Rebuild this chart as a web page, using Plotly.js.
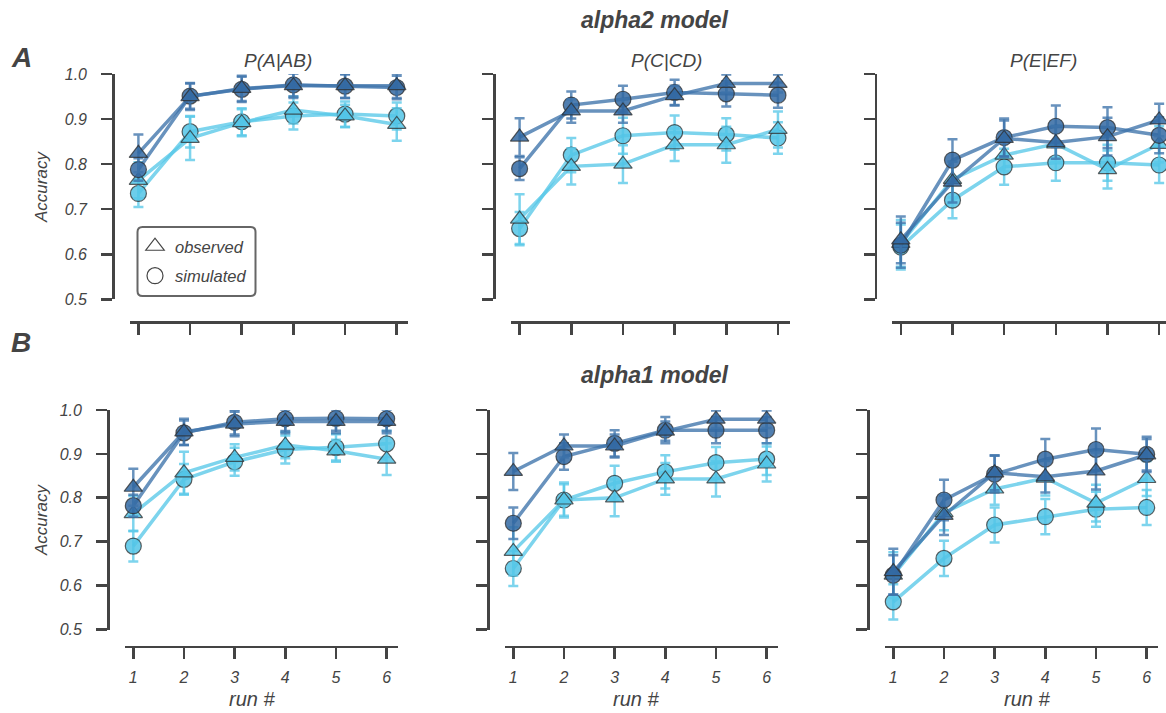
<!DOCTYPE html>
<html>
<head>
<meta charset="utf-8">
<script src="https://cdn.plot.ly/plotly-3.0.1.min.js"></script>
<style>html,body{margin:0;padding:0;overflow:hidden;background:#fff}</style>
</head>
<body>
<div id="chart" style="width:1166px;height:713px"></div>
<script>
// ---------------- data ----------------
var runs = [1, 2, 3, 4, 5, 6];
var xTickLabels = ['1', '2', '3', '4', '5', '6'];
var yTickVals = [0.5, 0.6, 0.7, 0.8, 0.9, 1.0];
var panelTitles = ['P(A|AB)', 'P(C|CD)', 'P(E|EF)'];
var rowTitles = ['alpha2 model', 'alpha1 model'];
var rowLetters = ['A', 'B'];
var legendLabels = ['observed', 'simulated'];

// observed (same in both rows)
var obsDarkAB  = [0.824, 0.950, 0.968, 0.974, 0.974, 0.974];
var obsLightAB = [0.764, 0.857, 0.892, 0.920, 0.907, 0.888];
var obsDarkCD  = [0.860, 0.918, 0.918, 0.952, 0.979, 0.979];
var obsLightCD = [0.678, 0.795, 0.800, 0.843, 0.843, 0.877];
var obsDarkEF  = [0.632, 0.760, 0.857, 0.848, 0.861, 0.898];
var obsLightEF = [0.624, 0.766, 0.820, 0.845, 0.788, 0.844];
var obsDarkErrAB  = [0.042, 0.030, 0.028, 0.027, 0.027, 0.027];
var obsLightErrAB = [0.040, 0.048, 0.030, 0.030, 0.025, 0.036];
var obsDarkErrCD  = [0.042, 0.026, 0.026, 0.022, 0.020, 0.020];
var obsLightErrCD = [0.055, 0.040, 0.042, 0.036, 0.040, 0.040];
var obsDarkErrEF  = [0.052, 0.045, 0.040, 0.036, 0.042, 0.036];
var obsLightErrEF = [0.052, 0.040, 0.036, 0.040, 0.042, 0.040];

// alpha2 simulated
var a2SimDarkAB  = [0.788, 0.951, 0.966, 0.976, 0.973, 0.970];
var a2SimLightAB = [0.735, 0.872, 0.894, 0.907, 0.911, 0.907];
var a2SimDarkCD  = [0.790, 0.931, 0.944, 0.959, 0.956, 0.953];
var a2SimLightCD = [0.657, 0.820, 0.863, 0.870, 0.866, 0.858];
var a2SimDarkEF  = [0.620, 0.809, 0.859, 0.884, 0.881, 0.864];
var a2SimLightEF = [0.616, 0.720, 0.794, 0.803, 0.803, 0.798];
var a2SimDarkErrAB  = [0.025, 0.028, 0.028, 0.026, 0.026, 0.026];
var a2SimLightErrAB = [0.030, 0.035, 0.030, 0.030, 0.028, 0.030];
var a2SimDarkErrCD  = [0.025, 0.030, 0.030, 0.028, 0.028, 0.028];
var a2SimLightErrCD = [0.037, 0.038, 0.040, 0.038, 0.036, 0.035];
var a2SimDarkErrEF  = [0.050, 0.046, 0.042, 0.046, 0.045, 0.040];
var a2SimLightErrEF = [0.050, 0.040, 0.040, 0.040, 0.040, 0.040];

// alpha1 simulated
var a1SimDarkAB  = [0.782, 0.948, 0.972, 0.980, 0.981, 0.980];
var a1SimLightAB = [0.690, 0.842, 0.882, 0.910, 0.915, 0.923];
var a1SimDarkCD  = [0.742, 0.894, 0.924, 0.954, 0.954, 0.954];
var a1SimLightCD = [0.639, 0.795, 0.833, 0.859, 0.880, 0.888];
var a1SimDarkEF  = [0.624, 0.795, 0.854, 0.888, 0.910, 0.899];
var a1SimLightEF = [0.563, 0.662, 0.738, 0.757, 0.774, 0.778];
var a1SimDarkErrAB  = [0.025, 0.028, 0.028, 0.028, 0.028, 0.028];
var a1SimLightErrAB = [0.035, 0.035, 0.032, 0.032, 0.030, 0.030];
var a1SimDarkErrCD  = [0.036, 0.030, 0.030, 0.030, 0.030, 0.030];
var a1SimLightErrCD = [0.040, 0.036, 0.040, 0.038, 0.036, 0.036];
var a1SimDarkErrEF  = [0.045, 0.046, 0.042, 0.046, 0.048, 0.040];
var a1SimLightErrEF = [0.040, 0.040, 0.040, 0.040, 0.040, 0.040];

// ---------------- styles ----------------
var FONT = 'Liberation Sans, Arial, sans-serif';
var TXT = '#444444';
var DARK_LINE = 'rgba(62,115,170,0.78)';
var DARK_FILL = 'rgba(50,105,162,0.85)';
var LIGHT_LINE = 'rgba(88,200,232,0.78)';
var LIGHT_FILL = 'rgba(82,196,230,0.85)';
var EDGE = 'rgba(45,45,45,0.75)';

var W = 1166, H = 713;
function px(v) { return v / W; }
function py(v) { return 1 - v / H; }

// panel geometry (pixels)
var rows = [
  { x1: [138.4, 519.6, 900.8], unit: 51.67, yTop: 74, yBot: 299.3, xLine: 322 },
  { x1: [133.3, 513.3, 893.3], unit: 50.67, yTop: 410, yBot: 629.5, xLine: 646.7 }
];
var XR0 = 0.835, XR1 = 6.225;

var panels = [
  [obsDarkAB, obsDarkErrAB, a2SimDarkAB, a2SimDarkErrAB, obsLightAB, obsLightErrAB, a2SimLightAB, a2SimLightErrAB],
  [obsDarkCD, obsDarkErrCD, a2SimDarkCD, a2SimDarkErrCD, obsLightCD, obsLightErrCD, a2SimLightCD, a2SimLightErrCD],
  [obsDarkEF, obsDarkErrEF, a2SimDarkEF, a2SimDarkErrEF, obsLightEF, obsLightErrEF, a2SimLightEF, a2SimLightErrEF],
  [obsDarkAB, obsDarkErrAB, a1SimDarkAB, a1SimDarkErrAB, obsLightAB, obsLightErrAB, a1SimLightAB, a1SimLightErrAB],
  [obsDarkCD, obsDarkErrCD, a1SimDarkCD, a1SimDarkErrCD, obsLightCD, obsLightErrCD, a1SimLightCD, a1SimLightErrCD],
  [obsDarkEF, obsDarkErrEF, a1SimDarkEF, a1SimDarkErrEF, obsLightEF, obsLightErrEF, a1SimLightEF, a1SimLightErrEF]
];

function series(xa, ya, y, err, symbol, lineCol, fillCol) {
  return {
    type: 'scatter', mode: 'lines+markers', x: runs, y: y,
    xaxis: xa, yaxis: ya, showlegend: false, cliponaxis: false, hoverinfo: 'skip',
    line: { color: lineCol, width: 3.5 },
    marker: { symbol: symbol, size: 16, color: fillCol, line: { color: EDGE, width: 1.2 } },
    error_y: { type: 'data', array: err, visible: true, color: lineCol, thickness: 2.5, width: 5 }
  };
}

var traces = [];
var layout = {
  width: W, height: H, autosize: false,
  margin: { l: 0, r: 0, t: 0, b: 0 },
  paper_bgcolor: '#ffffff', plot_bgcolor: 'rgba(0,0,0,0)',
  font: { family: FONT, color: TXT },
  showlegend: true,
  legend: {
    x: px(135), y: py(229), xanchor: 'left', yanchor: 'top',
    bgcolor: 'rgba(0,0,0,0)', borderwidth: 0,
    font: { family: FONT, size: 16.5, color: TXT, style: 'italic' },
    traceorder: 'grouped', tracegroupgap: 5
  },
  annotations: [], shapes: []
};

for (var p = 0; p < 6; p++) {
  var r = Math.floor(p / 3), c = p % 3;
  var g = rows[r];
  var n = p + 1;
  var xa = 'x' + (n === 1 ? '' : n), ya = 'y' + (n === 1 ? '' : n);
  var xk = 'xaxis' + (n === 1 ? '' : n), yk = 'yaxis' + (n === 1 ? '' : n);
  var d0 = g.x1[c] - (1 - XR0) * g.unit;
  var d1 = g.x1[c] + (XR1 - 1) * g.unit;
  var r1 = XR1;
  if (d1 > W) { r1 = XR0 + (W - d0) / g.unit; d1 = W; }
  var common = {
    showgrid: false, zeroline: false, showline: true, linecolor: '#444444', linewidth: 2.6,
    ticks: 'outside', ticklen: 11, tickwidth: 2.6, tickcolor: '#444444',
    tickfont: { family: FONT, size: 16, color: TXT, style: 'italic' }, fixedrange: true
  };
  layout[xk] = Object.assign({}, common, {
    anchor: 'free', position: py(g.xLine), domain: [px(d0), px(d1)],
    range: [XR0, r1], tickvals: runs, ticktext: xTickLabels,
    showticklabels: r === 1, ticklabelstandoff: 4
  });
  layout[yk] = Object.assign({}, common, {
    anchor: 'free', position: px(g.x1[c] - 25.2), domain: [py(g.yBot), py(g.yTop)],
    range: [0.5, 1.0], tickvals: yTickVals, tickformat: '.1f',
    showticklabels: c === 0, ticklabelstandoff: 11
  });
  var s = panels[p];
  traces.push(series(xa, ya, s[6], s[7], 'circle', LIGHT_LINE, LIGHT_FILL));
  traces.push(series(xa, ya, s[4], s[5], 'triangle-up', LIGHT_LINE, LIGHT_FILL));
  traces.push(series(xa, ya, s[2], s[3], 'circle', DARK_LINE, DARK_FILL));
  traces.push(series(xa, ya, s[0], s[1], 'triangle-up', DARK_LINE, DARK_FILL));
}

// legend entries
traces.push({ type: 'scatter', mode: 'markers', x: [null], y: [null], name: legendLabels[0], legendgroup: 'a',
  marker: { symbol: 'triangle-up-open', size: 16, color: '#444444', line: { width: 1.2 } } });
traces.push({ type: 'scatter', mode: 'markers', x: [null], y: [null], name: legendLabels[1], legendgroup: 'b',
  marker: { symbol: 'circle-open', size: 16, color: '#444444', line: { width: 1.2 } } });

// legend rounded box
(function () {
  var x0 = px(137.5), x1 = px(255.5), y0 = py(227), y1 = py(296);
  var rx = 5 / W, ry = 5 / H;
  layout.shapes.push({
    type: 'path', xref: 'paper', yref: 'paper',
    path: 'M ' + (x0 + rx) + ' ' + y0 + ' L ' + (x1 - rx) + ' ' + y0 + ' Q ' + x1 + ' ' + y0 + ' ' + x1 + ' ' + (y0 - ry) +
      ' L ' + x1 + ' ' + (y1 + ry) + ' Q ' + x1 + ' ' + y1 + ' ' + (x1 - rx) + ' ' + y1 +
      ' L ' + (x0 + rx) + ' ' + y1 + ' Q ' + x0 + ' ' + y1 + ' ' + x0 + ' ' + (y1 + ry) +
      ' L ' + x0 + ' ' + (y0 - ry) + ' Q ' + x0 + ' ' + y0 + ' ' + (x0 + rx) + ' ' + y0 + ' Z',
    line: { color: '#666666', width: 2 }, fillcolor: 'rgba(0,0,0,0)', layer: 'above'
  });
})();

function ann(text, x, y, size, opts) {
  var a = Object.assign({ text: text, x: px(x), y: py(y), xref: 'paper', yref: 'paper', showarrow: false,
    xanchor: 'center', yanchor: 'middle',
    font: { family: FONT, size: size, color: TXT, style: 'italic' } }, opts || {});
  layout.annotations.push(a);
}
var boldFont = function (sz) { return { family: FONT, size: sz, color: TXT, style: 'italic', weight: 'bold' }; };
ann(rowTitles[0], 655, 20, 23, { font: boldFont(23) });
ann(rowTitles[1], 655, 375, 23, { font: boldFont(23) });
ann(rowLetters[0], 21, 57, 28, { font: boldFont(28) });
ann(rowLetters[1], 21, 343, 28, { font: boldFont(28) });
ann(panelTitles[0], 278, 60, 19);
ann(panelTitles[1], 666, 60, 19);
ann(panelTitles[2], 1043, 60, 19);
ann('Accuracy', 41, 187, 17, { textangle: -90 });
ann('Accuracy', 41, 520, 17, { textangle: -90 });
ann('run #', 252, 699, 20);
ann('run #', 636, 699, 20);
ann('run #', 1027, 699, 20);

Plotly.newPlot('chart', traces, layout, { staticPlot: true, displayModeBar: false });
</script>
</body>
</html>
